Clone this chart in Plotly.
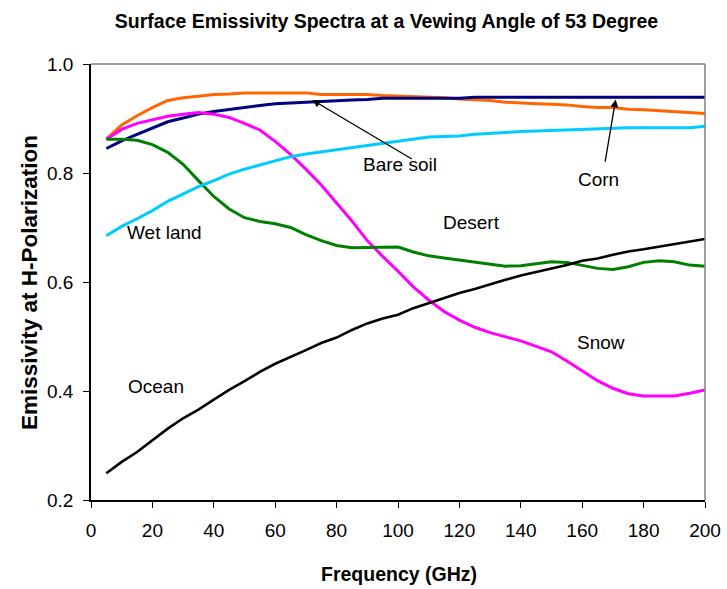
import plotly.graph_objects as go

# Frequency grid (GHz)
freq = [5, 10, 15, 20, 25, 30, 35, 40, 45, 50, 55, 60, 65, 70, 75, 80, 85, 90, 95, 100,
        105, 110, 115, 120, 125, 130, 135, 140, 145, 150, 155, 160, 165, 170, 175, 180,
        185, 190, 195, 200]

# H-polarized emissivity for each surface type
corn = [0.862, 0.888, 0.905, 0.920, 0.933, 0.938, 0.941, 0.944, 0.945, 0.947,
        0.947, 0.947, 0.947, 0.947, 0.944, 0.944, 0.944, 0.944, 0.942, 0.941,
        0.941, 0.940, 0.938, 0.936, 0.935, 0.933, 0.930, 0.928, 0.927, 0.926,
        0.925, 0.922, 0.920, 0.920, 0.917, 0.916, 0.914, 0.912, 0.911, 0.909]
bare_soil = [0.845, 0.859, 0.871, 0.882, 0.894, 0.901, 0.908, 0.913, 0.917, 0.921,
             0.924, 0.927, 0.929, 0.930, 0.931, 0.933, 0.934, 0.935, 0.937, 0.937,
             0.937, 0.937, 0.937, 0.937, 0.939, 0.939, 0.939, 0.939, 0.939, 0.939,
             0.939, 0.939, 0.939, 0.939, 0.939, 0.939, 0.939, 0.939, 0.939, 0.939]
snow = [0.862, 0.880, 0.891, 0.898, 0.904, 0.908, 0.911, 0.908, 0.902, 0.891,
        0.879, 0.858, 0.834, 0.807, 0.778, 0.745, 0.712, 0.676, 0.647, 0.620,
        0.591, 0.567, 0.546, 0.530, 0.517, 0.507, 0.500, 0.492, 0.482, 0.472,
        0.455, 0.437, 0.419, 0.405, 0.395, 0.391, 0.391, 0.391, 0.396, 0.402]
desert = [0.862, 0.862, 0.860, 0.852, 0.838, 0.816, 0.786, 0.757, 0.734, 0.718,
          0.711, 0.707, 0.700, 0.687, 0.676, 0.667, 0.663, 0.663, 0.664, 0.664,
          0.655, 0.648, 0.644, 0.640, 0.637, 0.632, 0.629, 0.630, 0.633, 0.637,
          0.636, 0.631, 0.625, 0.623, 0.628, 0.636, 0.639, 0.637, 0.631, 0.629]
wet_land = [0.685, 0.702, 0.716, 0.731, 0.748, 0.762, 0.775, 0.786, 0.798, 0.807,
            0.815, 0.823, 0.830, 0.835, 0.839, 0.842, 0.847, 0.851, 0.855, 0.859,
            0.863, 0.866, 0.867, 0.868, 0.871, 0.873, 0.874, 0.876, 0.877, 0.878,
            0.879, 0.880, 0.882, 0.883, 0.883, 0.883, 0.883, 0.883, 0.883, 0.886]
ocean = [0.249, 0.270, 0.288, 0.310, 0.331, 0.350, 0.366, 0.384, 0.402, 0.418,
         0.435, 0.450, 0.462, 0.475, 0.488, 0.498, 0.512, 0.524, 0.533, 0.540,
         0.552, 0.561, 0.571, 0.580, 0.587, 0.596, 0.604, 0.612, 0.618, 0.625,
         0.631, 0.639, 0.643, 0.650, 0.656, 0.660, 0.665, 0.670, 0.675, 0.679]

x_ticks = [0, 20, 40, 60, 80, 100, 120, 140, 160, 180, 200]
y_ticks = [0.2, 0.4, 0.6, 0.8, 1.0]
y_tick_text = ["0.2", "0.4", "0.6", "0.8", "1.0"]

FONT = "Liberation Sans, Arial, sans-serif"

series = [
    ("Corn", corn, "#FF6600", 3),
    ("Bare soil", bare_soil, "#000080", 3),
    ("Snow", snow, "#FF00FF", 3),
    ("Desert", desert, "#008000", 3),
    ("Wet land", wet_land, "#00CCFF", 3),
    ("Ocean", ocean, "#000000", 2.6),
]

fig = go.Figure()
for name, vals, color, w in series:
    fig.add_trace(go.Scatter(x=freq, y=vals, mode="lines", name=name,
                             line=dict(color=color, width=w), showlegend=False))

# Text labels placed beside the curves
labels = [
    ("Bare soil", 100.6, 0.816),
    ("Desert", 124.0, 0.710),
    ("Corn", 165.2, 0.789),
    ("Wet land", 23.9, 0.691),
    ("Ocean", 21.1, 0.409),
    ("Snow", 166.1, 0.489),
]
for text, lx, ly in labels:
    fig.add_annotation(x=lx, y=ly, text=text, showarrow=False,
                       font=dict(family=FONT, size=19, color="black"),
                       xanchor="center", yanchor="middle")

# Pointer arrows (head, tail)
arrows = [
    ((72.1, 0.934), (105.0, 0.824)),
    ((170.9, 0.935), (167.4, 0.818)),
]
for (hx, hy), (tx, ty) in arrows:
    fig.add_annotation(x=hx, y=hy, ax=tx, ay=ty, xref="x", yref="y",
                       axref="x", ayref="y", text="", showarrow=True,
                       arrowhead=2, arrowsize=1.2, arrowwidth=1.3,
                       arrowcolor="black")

# Axis titles
fig.add_annotation(xref="paper", yref="paper", x=0.5016, y=-0.170,
                   text="<b>Frequency (GHz)</b>", showarrow=False,
                   font=dict(family=FONT, size=19.5, color="black"),
                   xanchor="center", yanchor="middle")
fig.add_annotation(xref="paper", yref="paper", x=-0.101, y=0.5,
                   text="<b>Emissivity at H-Polarization</b>", showarrow=False,
                   textangle=-90,
                   font=dict(family=FONT, size=22.5, color="black"),
                   xanchor="center", yanchor="middle")

# Plot frame: top and right edges in grey
fig.add_shape(type="line", xref="paper", yref="paper", x0=0, x1=1, y0=1, y1=1,
              line=dict(color="#808080", width=1.5))
fig.add_shape(type="line", xref="paper", yref="paper", x0=1, x1=1, y0=0, y1=1,
              line=dict(color="#808080", width=1.5))

fig.update_layout(
    width=727, height=589,
    margin=dict(l=91, r=22, t=64, b=89),
    paper_bgcolor="white", plot_bgcolor="white",
    title=dict(text="<b>Surface Emissivity Spectra at a Vewing Angle of 53 Degree</b>",
               x=386.5 / 727, xref="container", xanchor="center",
               y=1 - 20.7 / 589, yref="container", yanchor="middle",
               font=dict(family=FONT, size=19.5, color="black")),
    xaxis=dict(range=[0, 200], tickvals=x_ticks, ticks="outside", ticklen=6,
               tickcolor="black", tickwidth=1.3, showline=True, linecolor="black",
               linewidth=1.5, showgrid=False, zeroline=False, automargin=False,
               tickfont=dict(family=FONT, size=19, color="black"),
               ticklabelstandoff=6),
    yaxis=dict(range=[0.2, 1.0], tickvals=y_ticks, ticktext=y_tick_text,
               ticks="outside", ticklen=6, tickcolor="black", tickwidth=1.3,
               showline=True, linecolor="black", linewidth=1.5, showgrid=False,
               zeroline=False, automargin=False,
               tickfont=dict(family=FONT, size=19, color="black"),
               ticklabelstandoff=6),
)

fig.write_html("out.html")
